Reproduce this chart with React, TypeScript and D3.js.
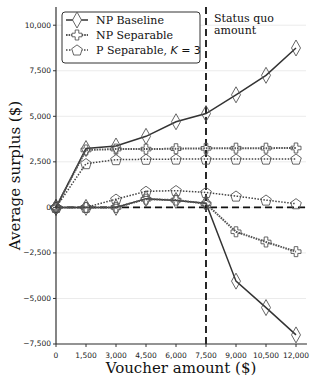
import React from "react";
import * as d3 from "d3";

// Voucher amounts on x axis
const vouchers = [0, 1500, 3000, 4500, 6000, 7500, 9000, 10500, 12000];
const xTicks = [0, 1500, 3000, 4500, 6000, 7500, 9000, 10500, 12000];
const yTicks = [-7500, -5000, -2500, 0, 2500, 5000, 7500, 10000];

// upper group
const npBaseHigh = [0, 3230, 3370, 3900, 4700, 5150, 6180, 7250, 8750];
const npSepHigh = [0, 3150, 3200, 3200, 3220, 3240, 3250, 3250, 3260];
const pSepHigh = [0, 2400, 2620, 2640, 2650, 2650, 2650, 2650, 2650];
// lower group
const npBaseLow = [0, 0, 0, 480, 380, 230, -4050, -5500, -7000];
const npSepLow = [0, 0, 0, 450, 400, 200, -1340, -1900, -2430];
const pSepLow = [0, 0, 450, 880, 920, 820, 620, 400, 200];

const W = 312;
const H = 378;
const left = 56;
const right = 306;
const top = 7;
const bottom = 344;

const diamond = "M0,-8L4.5,0L0,8L-4.5,0Z";
const plus = "M-1.8,-5H1.8V-1.8H5V1.8H1.8V5H-1.8V1.8H-5V-1.8H-1.8Z";
const pentagon = d3.range(5).map((i) => {
  const a = -Math.PI / 2 + (i * 2 * Math.PI) / 5;
  return [5.6 * Math.cos(a), 5.6 * Math.sin(a) + 0.5];
});
const pentagonPath = "M" + pentagon.map((p) => p.join(",")).join("L") + "Z";

const series = [
  { name: "NP Baseline", data: [npBaseHigh, npBaseLow], color: "#333", width: 1.5, dash: "", marker: diamond },
  { name: "NP Separable", data: [npSepHigh, npSepLow], color: "#555", width: 2, dash: "1.6,1", marker: plus },
  { name: "P Separable", data: [pSepHigh, pSepLow], color: "#444", width: 1.5, dash: "1.5,1.5", marker: pentagonPath },
];

export default function App() {
  const x = d3.scaleLinear().domain([0, 12500]).range([left, right]);
  const y = d3.scaleLinear().domain([-7500, 11000]).range([bottom, top]);
  const fmt = d3.format(",");
  const line = d3
    .line<number>()
    .x((_, i) => x(vouchers[i]))
    .y((d) => y(d));

  return (
    <svg width={W} height={H} style={{ position: "absolute", left: 0, top: 0, background: "#fff" }}>
      {/* grid */}
      {yTicks.map((t) => (
        <line key={"g" + t} x1={left} x2={right} y1={y(t)} y2={y(t)} stroke="#ebebeb" strokeWidth={1} />
      ))}

      {/* reference lines */}
      <line x1={left} x2={right} y1={y(0)} y2={y(0)} stroke="#111" strokeWidth={1.8} strokeDasharray="7,4" />
      <line x1={x(7500)} x2={x(7500)} y1={top} y2={bottom} stroke="#111" strokeWidth={1.8} strokeDasharray="7,4" />

      {/* series */}
      {series.map((s) =>
        s.data.map((vals, k) => (
          <g key={s.name + k}>
            <path d={line(vals) || ""} fill="none" stroke={s.color} strokeWidth={s.width} strokeDasharray={s.dash} />
            {vals.map((v, i) => (
              <path
                key={i}
                d={s.marker}
                transform={`translate(${x(vouchers[i])},${y(v)})`}
                fill="none"
                stroke="#555"
                strokeWidth={0.9}
              />
            ))}
          </g>
        ))
      )}

      {/* axes */}
      <line x1={left} x2={left} y1={top} y2={bottom} stroke="#333" strokeWidth={1.2} />
      <line x1={left} x2={right + 1} y1={bottom} y2={bottom} stroke="#333" strokeWidth={1.2} />
      {yTicks.map((t) => (
        <g key={"y" + t} transform={`translate(0,${y(t)})`}>
          <line x1={left - 3} x2={left} stroke="#333" strokeWidth={1} />
          <text x={left - 5} dy="0.32em" textAnchor="end" fontFamily="DejaVu Sans" fontSize={7.5} fill="#222">
            {fmt(t)}
          </text>
        </g>
      ))}
      {xTicks.map((t) => (
        <g key={"x" + t} transform={`translate(${x(t)},0)`}>
          <line y1={bottom} y2={bottom + 3} stroke="#333" strokeWidth={1} />
          <text y={bottom + 14} textAnchor="middle" fontFamily="DejaVu Sans" fontSize={7.5} fill="#222">
            {fmt(t)}
          </text>
        </g>
      ))}

      {/* axis titles */}
      <text
        transform={`translate(20,${(top + bottom) / 2}) rotate(-90)`}
        textAnchor="middle"
        fontFamily="DejaVu Serif"
        fontSize={15}
        fill="#111"
      >
        Average surplus ($)
      </text>
      <text x={(left + right) / 2} y={373} textAnchor="middle" fontFamily="DejaVu Serif" fontSize={15} fill="#111">
        Voucher amount ($)
      </text>

      {/* status quo note */}
      <text x={x(7500) + 8} y={22} fontFamily="DejaVu Serif" fontSize={11} fill="#111">
        Status quo
      </text>
      <text x={x(7500) + 8} y={34} fontFamily="DejaVu Serif" fontSize={11} fill="#111">
        amount
      </text>

      {/* legend */}
      <rect x={62} y={12} width={138} height={51} rx={3} fill="#fff" stroke="#333" strokeWidth={1} />
      {series.map((s, i) => {
        const ly = 20 + i * 15;
        return (
          <g key={"l" + s.name}>
            <line x1={66} x2={88} y1={ly} y2={ly} stroke={s.color} strokeWidth={s.width} strokeDasharray={s.dash} />
            <path d={s.marker} transform={`translate(77,${ly})`} fill="#fff" stroke="#555" strokeWidth={0.9} />
            <text x={96} y={ly + 4} fontFamily="DejaVu Serif" fontSize={11} fill="#111">
              {s.name}
              {i === 2 && (
                <>
                  {", "}
                  <tspan fontStyle="italic" fontFamily="DejaVu Sans">K</tspan>
                  <tspan fontFamily="DejaVu Sans">{" = 3"}</tspan>
                </>
              )}
            </text>
          </g>
        );
      })}
    </svg>
  );
}
